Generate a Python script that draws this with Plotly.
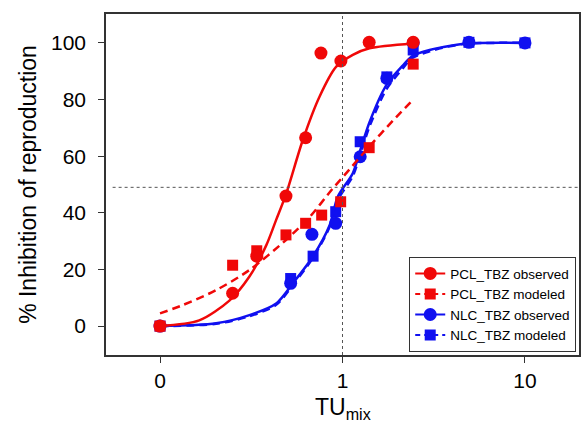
import plotly.graph_objects as go

# ---- data (TU_mix, % inhibition); TU = 0 is drawn at the "0" tick position (0.1 on log axis)
ZERO_POS = 0.1

pcl_obs_x = [0, 0.25, 0.339, 0.49, 0.628, 0.762, 0.98, 1.40, 2.44]
pcl_obs_y = [0, 11.6, 24.7, 45.9, 66.5, 96.4, 93.6, 100.2, 100.2]

pcl_mod_x = [0, 0.25, 0.339, 0.49, 0.628, 0.769, 0.977, 1.40, 2.44]
pcl_mod_y = [0, 21.5, 26.6, 32.2, 36.3, 39.2, 43.9, 63.0, 92.5]

nlc_obs_x = [0, 0.52, 0.68, 0.918, 1.25, 1.75, 2.44, 4.93, 10]
nlc_obs_y = [0, 15.1, 32.4, 36.3, 59.8, 87.5, 100.0, 100.2, 100.0]

nlc_mod_x = [0, 0.52, 0.69, 0.918, 1.25, 1.75, 2.44, 4.93, 10]
nlc_mod_y = [0, 16.8, 24.7, 40.4, 65.1, 88.0, 97.5, 100.2, 100.0]

# fitted curves
pcl_obs_fit_x = [0, 0.164, 0.24, 0.309, 0.382, 0.433, 0.49, 0.606, 0.748, 0.924, 1.139, 1.406, 2.43]
pcl_obs_fit_y = [0, 2, 9, 17.5, 28.5, 37.5, 46.5, 65.7, 81, 91.6, 95.8, 98.1, 99.8]

pcl_mod_fit_x = [0, 0.133, 0.203, 0.309, 0.49, 0.66, 0.882, 1.0, 1.406, 1.886, 2.44]
pcl_mod_fit_y = [4.5, 7.4, 12.7, 19.8, 30.4, 38.5, 48.5, 52.5, 63.5, 72.5, 80]

nlc_obs_fit_x = [0, 0.203, 0.309, 0.433, 0.534, 0.687, 0.849, 0.942, 1.139, 1.25, 1.406, 1.736, 2.139, 2.43, 3.0, 3.53, 4.76, 10]
nlc_obs_fit_y = [0, 1, 3.9, 8, 15.1, 24.5, 35.5, 45.7, 54, 62, 72, 85, 92, 95.5, 97.5, 98.5, 99.8, 100]

nlc_mod_fit_x = [0, 0.203, 0.309, 0.433, 0.534, 0.687, 0.849, 0.942, 1.139, 1.25, 1.406, 1.736, 2.139, 2.43, 3.0, 3.53, 4.76, 10]
nlc_mod_fit_y = [0, 0.8, 3.5, 7.5, 14.5, 24, 35, 44.5, 53, 60.5, 70.5, 83.5, 91, 94.8, 97, 98.3, 99.7, 100]

x_tickvals = [0, 1, 10]
x_ticktext = ["0", "1", "10"]
y_tickvals = [0, 20, 40, 60, 80, 100]

x_title = "TU<sub>mix</sub>"
y_title = "% Inhibition of reproduction"

ref_x = 1
ref_y = 49

RED = "#f00808"
BLUE = "#1010f0"
FONT = "Arial, Liberation Sans, sans-serif"


def pos(xs):
    return [ZERO_POS if v == 0 else v for v in xs]


fig = go.Figure()

series = [
    ("NLC_TBZ modeled", BLUE, "dash", "square", 11, nlc_mod_fit_x, nlc_mod_fit_y, nlc_mod_x, nlc_mod_y),
    ("NLC_TBZ observed", BLUE, "solid", "circle", 13, nlc_obs_fit_x, nlc_obs_fit_y, nlc_obs_x, nlc_obs_y),
    ("PCL_TBZ modeled", RED, "dash", "square", 11, pcl_mod_fit_x, pcl_mod_fit_y, pcl_mod_x, pcl_mod_y),
    ("PCL_TBZ observed", RED, "solid", "circle", 13, pcl_obs_fit_x, pcl_obs_fit_y, pcl_obs_x, pcl_obs_y),
]

dash_map = {"dash": "8px,5px", "solid": "solid"}

for name, col, dash, sym, size, fx, fy, px, py in series:
    fig.add_trace(go.Scatter(
        x=pos(fx), y=fy, mode="lines", line=dict(color=col, width=2.5, dash=dash_map[dash], shape="spline", smoothing=0.8),
        showlegend=False, hoverinfo="skip"))
    fig.add_trace(go.Scatter(
        x=pos(px), y=py, mode="markers", marker=dict(color=col, symbol=sym, size=size),
        showlegend=False))

# legend entries (line + marker)
legend_order = [
    ("PCL_TBZ observed", RED, "solid", "circle", 13),
    ("PCL_TBZ modeled", RED, "dash", "square", 11),
    ("NLC_TBZ observed", BLUE, "solid", "circle", 13),
    ("NLC_TBZ modeled", BLUE, "dash", "square", 11),
]
for name, col, dash, sym, size in legend_order:
    fig.add_trace(go.Scatter(
        x=[None], y=[None], mode="lines+markers", name=name,
        line=dict(color=col, width=2, dash="5px,4px" if dash == "dash" else "solid"),
        marker=dict(color=col, symbol=sym, size=size)))

fig.add_shape(type="line", xref="x", yref="paper", x0=ref_x, x1=ref_x, y0=0, y1=1,
              line=dict(color="#555555", width=1, dash="dot"))
fig.add_shape(type="line", xref="paper", yref="y", x0=0.014, x1=1, y0=ref_y, y1=ref_y,
              line=dict(color="#555555", width=1, dash="dot"))

fig.add_annotation(text=x_title, xref="paper", yref="paper", x=0.5, y=0,
                   xanchor="center", yanchor="top", yshift=-37, showarrow=False,
                   font=dict(size=23, family=FONT, color="black"))

axis_line = dict(showline=True, linecolor="#333333", linewidth=1.5, mirror=True,
                 ticks="outside", ticklen=6, tickcolor="#333333", tickwidth=1.2,
                 showgrid=False, zeroline=False, automargin=False)

fig.update_layout(
    width=581, height=421,
    margin=dict(l=106, r=2, t=14, b=66),
    paper_bgcolor="white", plot_bgcolor="white",
    font=dict(family=FONT, color="black"),
    xaxis=dict(type="log", range=[-1.296, 1.296],
               tickvals=pos(x_tickvals), ticktext=x_ticktext,
               tickfont=dict(size=21),
               **axis_line),
    yaxis=dict(range=[-10.2, 110.2], tickvals=y_tickvals,
               tickfont=dict(size=21), ticklabelstandoff=8,
               title=dict(text=y_title, font=dict(size=23), standoff=8),
               **axis_line),
    legend=dict(x=0.9937, y=0.009, xanchor="right", yanchor="bottom",
                bgcolor="white", bordercolor="#333333", borderwidth=1.2,
                font=dict(size=13.5), itemwidth=30, tracegroupgap=0),
    showlegend=True,
)

fig.write_html("out.html")
